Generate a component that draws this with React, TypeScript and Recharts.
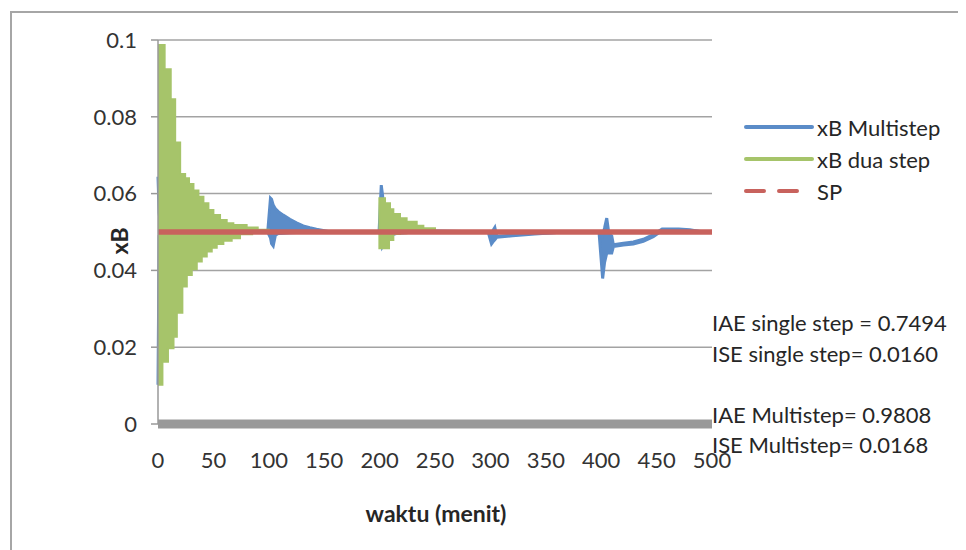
import { ComposedChart, Area, Line, XAxis, YAxis, CartesianGrid } from "recharts";

// waktu (menit) for each series
const greenT = [0, 4, 6, 9, 11.5, 14, 15.5, 17, 20, 22, 24.5, 26, 28, 30.5, 32, 35, 36.5, 39.5, 41, 44, 45.5, 48.5, 50, 53, 56, 59, 62, 66.5, 68, 74, 80, 85, 90, 95, 100, 199.8, 204.9, 208.5, 209.4, 212.4, 218.4, 224.4, 233.5, 239.5, 250, 500];
const greenHi = [0.0987, 0.0987, 0.0924, 0.0924, 0.0846, 0.0846, 0.0733, 0.0733, 0.0651, 0.0651, 0.064, 0.064, 0.0625, 0.0625, 0.0608, 0.0608, 0.0592, 0.0592, 0.0575, 0.0575, 0.0557, 0.0557, 0.0544, 0.0544, 0.0531, 0.0531, 0.0523, 0.0523, 0.0518, 0.0518, 0.0512, 0.0512, 0.0506, 0.0506, 0.05, 0.0588, 0.0575, 0.0575, 0.0559, 0.0547, 0.0536, 0.0527, 0.0516, 0.051, 0.05, 0.05];
const greenLo = [0.0102, 0.0162, 0.0162, 0.0197, 0.0197, 0.0227, 0.0227, 0.029, 0.029, 0.0358, 0.0358, 0.0388, 0.0388, 0.0403, 0.0403, 0.0423, 0.0423, 0.0436, 0.0436, 0.0449, 0.0449, 0.0459, 0.0459, 0.0469, 0.0469, 0.0477, 0.0477, 0.0484, 0.0484, 0.0494, 0.0494, 0.0498, 0.0498, 0.05, 0.05, 0.0458, 0.0458, 0.0479, 0.0479, 0.0495, 0.0497, 0.0498, 0.05, 0.05, 0.05, 0.05];

const blueT = [0, 1, 3, 99, 101.5, 102.5, 104, 106, 108.6, 113, 119, 125, 131, 137, 143, 155, 199.5, 201.5, 202.5, 204, 208, 215, 225, 240, 298, 301, 302.5, 304, 305.7, 320, 340, 360, 398, 401.3, 403, 405, 407, 409.5, 411, 420, 429, 438, 447, 455, 470, 480, 490, 500];
const blueLo = [0.0102, 0.049, 0.05, 0.05, 0.0485, 0.047, 0.0464, 0.0492, 0.0496, 0.0497, 0.0498, 0.0499, 0.05, 0.05, 0.05, 0.05, 0.05, 0.049, 0.0462, 0.047, 0.049, 0.0496, 0.0499, 0.05, 0.05, 0.0469, 0.0475, 0.048, 0.0486, 0.049, 0.0495, 0.0499, 0.05, 0.0379, 0.042, 0.0445, 0.0445, 0.0445, 0.0462, 0.0466, 0.0469, 0.0476, 0.0488, 0.0504, 0.0505, 0.0504, 0.0501, 0.05];
const blueHi = [0.0644, 0.055, 0.05, 0.05, 0.0588, 0.0585, 0.057, 0.056, 0.0553, 0.0544, 0.0533, 0.0524, 0.0516, 0.0511, 0.0507, 0.0501, 0.05, 0.0622, 0.06, 0.056, 0.0545, 0.053, 0.0515, 0.0503, 0.05, 0.049, 0.0505, 0.0512, 0.0489, 0.0492, 0.0497, 0.0499, 0.05, 0.049, 0.051, 0.0536, 0.0495, 0.049, 0.0467, 0.0471, 0.0474, 0.0481, 0.0493, 0.0508, 0.0508, 0.0506, 0.0501, 0.05];

const spT = [0, 500];
const spV = [0.05, 0.05];

const xTicks = [0, 50, 100, 150, 200, 250, 300, 350, 400, 450, 500];
const yTicks = [0, 0.02, 0.04, 0.06, 0.08, 0.1];

const notes = ["IAE single step = 0.7494", "ISE single step= 0.0160", "IAE Multistep= 0.9808", "ISE Multistep= 0.0168"];
const noteY = [314, 345, 406, 436];

const BLUE = "#5B8CC8";
const GREEN = "#A6C46A";
const RED = "#C8625D";
const FONT = "Lato, 'Open Sans', sans-serif";

const greenData = greenT.map((t, i) => ({ t, range: [greenLo[i], greenHi[i]] }));
const blueData = blueT.map((t, i) => ({ t, range: [blueLo[i], blueHi[i]] }));
const spData = spT.map((t, i) => ({ t, v: spV[i] }));

const legendItems = [
  { name: "xB Multistep", color: BLUE, dash: undefined as string | undefined },
  { name: "xB dua step", color: GREEN, dash: undefined as string | undefined },
  { name: "SP", color: RED, dash: "18 15" },
];

export default function App() {
  return (
    <div style={{ position: "relative", width: 958, height: 542, overflow: "hidden", background: "#fff", fontFamily: FONT }}>
      <div style={{ position: "absolute", left: 2, top: 3, width: 1100, height: 700, border: "2px solid #A6A6A6" }} />
      <ComposedChart width={958} height={542} margin={{ top: 32, right: 254, bottom: 66, left: 90 }}>
        <CartesianGrid vertical={false} stroke="#A3A3A3" strokeWidth={1.5} />
        <XAxis
          dataKey="t"
          type="number"
          domain={[0, 500]}
          ticks={xTicks}
          height={60}
          axisLine={{ stroke: "#999", strokeWidth: 9 }}
          tickLine={false}
          tickSize={0}
          tickMargin={28}
          tick={{ fill: "#333", fontSize: 22, fontFamily: FONT }}
          allowDuplicatedCategory={false}
        />
        <YAxis
          type="number"
          domain={[0, 0.1]}
          ticks={yTicks}
          width={60}
          axisLine={{ stroke: "#999", strokeWidth: 1.5 }}
          tickLine={{ stroke: "#999", strokeWidth: 1.5 }}
          tickSize={7}
          tickMargin={14}
          tickFormatter={(v: number) => String(Number(v.toFixed(2)))}
          tick={{ fill: "#333", fontSize: 22, fontFamily: FONT }}
        />
        <Area data={blueData} dataKey="range" type="linear" stroke={BLUE} strokeWidth={3} fill={BLUE} fillOpacity={1} isAnimationActive={false} dot={false} activeDot={false} />
        <Area data={greenData} dataKey="range" type="stepAfter" stroke={GREEN} strokeWidth={2} fill={GREEN} fillOpacity={1} isAnimationActive={false} dot={false} activeDot={false} />
        <Line data={spData} dataKey="v" type="linear" stroke={RED} strokeWidth={5.5} dot={false} activeDot={false} isAnimationActive={false} />
      </ComposedChart>

      <div style={{ position: "absolute", left: 111, top: 233, transform: "translate(-50%, -50%) rotate(-90deg)", fontWeight: 700, fontSize: 23, color: "#262626", whiteSpace: "nowrap" }}>xB</div>
      <div style={{ position: "absolute", left: 428, top: 505, transform: "translate(-50%, -50%)", fontWeight: 700, fontSize: 23, color: "#262626", whiteSpace: "nowrap" }}>waktu (menit)</div>

      {legendItems.map((it, i) => (
        <div key={it.name} style={{ position: "absolute", left: 735, top: 119 + i * 32 - 15, height: 30, display: "flex", alignItems: "center" }}>
          <svg width={72} height={10}>
            <line x1={3} y1={5} x2={69} y2={5} stroke={it.color} strokeWidth={4} strokeLinecap="round" strokeDasharray={it.dash} />
          </svg>
          <span style={{ marginLeft: 2, fontSize: 22, color: "#262626", whiteSpace: "nowrap" }}>{it.name}</span>
        </div>
      ))}

      {notes.map((n, i) => (
        <div key={n} style={{ position: "absolute", left: 704, top: noteY[i], transform: "translateY(-50%)", fontSize: 22, color: "#262626", whiteSpace: "nowrap" }}>{n}</div>
      ))}
    </div>
  );
}
